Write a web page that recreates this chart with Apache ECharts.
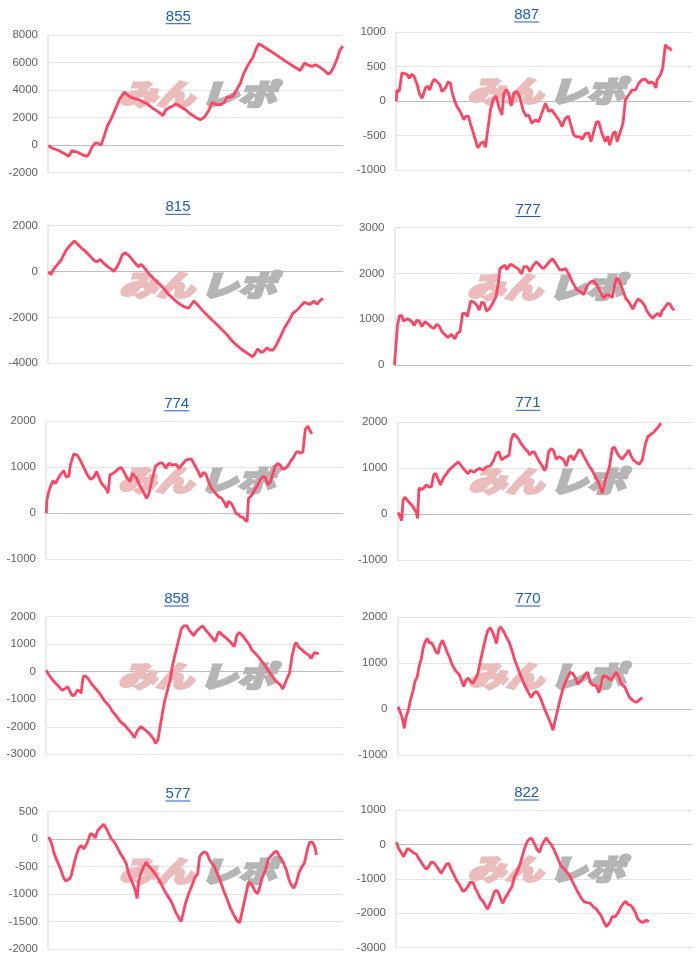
<!DOCTYPE html>
<html>
<head>
<meta charset="utf-8">
<script src="https://cdn.jsdelivr.net/npm/echarts@6/dist/echarts.min.js"></script>
<style>
  html, body { margin: 0; padding: 0; background: #fff; }
  #main { width: 700px; height: 970px; }
</style>
</head>
<body>
<div id="main"></div>
<script>
// 台番号ごとの差枚推移 (x: 横軸上の位置 0-100, y: 差枚)
const titles = ['855', '887', '815', '777', '774', '771', '858', '770', '577', '822'];

const s855 = [[0.2,0],[0.8,-150],[1.9,-260],[3.6,-390],[5.3,-580],[7.0,-820],[8.1,-390],[8.7,-310],[9.8,-500],[11.5,-680],[13.0,-820],[13.8,-680],[14.9,-150],[16.0,150],[16.8,150],[18.0,0],[18.9,580],[20.2,1430],[21.4,1910],[22.0,2030],[23.2,2800],[24.3,3370],[25.9,3850],[26.8,3680],[27.9,3490],[29.6,3370],[31.3,3240],[33.6,3000],[35.8,2640],[37.5,2400],[39.0,2150],[39.8,2520],[40.9,2710],[42.0,2810],[43.5,3000],[44.9,2810],[46.6,2570],[48.2,2280],[49.9,2030],[51.6,1840],[53.0,2030],[54.5,2520],[55.6,3120],[57.3,2950],[58.6,2950],[59.8,3120],[60.7,3490],[61.8,3490],[62.9,3610],[64.1,4090],[65.2,4500],[66.3,5180],[67.5,5710],[68.6,6100],[69.5,6390],[70.3,6880],[71.4,7360],[72.5,7240],[74.2,7000],[76.5,6680],[78.8,6340],[81.0,6030],[83.3,5710],[85.5,5420],[86.9,5960],[88.4,5790],[89.5,5710],[90.6,5840],[92.1,5670],[93.4,5470],[94.8,5180],[95.7,5230],[96.8,5670],[98.0,6270],[98.9,6880],[99.7,7120],[100,7170]];

const s887 = [[0.1,0],[0.3,160],[1.1,140],[1.5,160],[2.0,410],[2.6,430],[3.7,390],[4.5,330],[5.2,390],[6.0,370],[7.1,250],[7.9,110],[8.8,40],[9.1,20],[9.9,190],[10.7,220],[11.4,160],[12.2,270],[13.0,320],[13.9,280],[14.8,240],[15.5,140],[16.7,190],[17.6,280],[18.4,260],[18.9,140],[19.7,20],[20.6,-80],[21.7,-150],[22.9,-270],[23.6,-220],[24.5,-220],[25.1,-320],[26.2,-470],[27.6,-680],[28.7,-610],[29.6,-590],[30.2,-670],[30.7,-660],[31.9,-130],[32.8,20],[33.8,75],[34.7,-80],[35.8,-200],[36.4,110],[37.3,170],[38.1,110],[38.9,-70],[39.8,120],[40.9,140],[41.8,65],[42.9,-130],[44.0,-220],[44.8,-200],[45.9,-320],[47.1,-270],[48.2,-300],[49.3,-170],[50.5,-30],[51.6,-150],[52.7,-130],[53.8,-200],[55.0,-270],[56.1,-370],[57.2,-250],[58.3,-220],[58.9,-320],[60.0,-490],[61.1,-520],[62.3,-520],[62.8,-560],[64.0,-470],[65.1,-460],[65.9,-590],[66.8,-440],[67.7,-300],[68.5,-300],[69.6,-470],[70.7,-590],[71.5,-510],[72.2,-640],[73.3,-470],[74.1,-440],[74.7,-590],[75.6,-470],[76.7,-320],[77.5,20],[78.6,90],[79.7,160],[80.9,160],[82.0,260],[83.1,310],[84.2,320],[85.4,260],[85.9,240],[86.5,280],[87.3,240],[87.8,190],[88.2,310],[89.3,380],[90.1,480],[91.0,820],[91.6,780],[92.5,770],[93.0,730]];

const s815 = [[0.2,0],[1.0,-140],[1.9,110],[3.1,290],[4.2,460],[5.3,720],[6.2,940],[7.6,1160],[8.9,1330],[10.1,1190],[11.5,1010],[13.0,840],[14.4,650],[15.8,460],[16.8,430],[17.7,530],[18.9,360],[20.0,240],[21.4,110],[22.3,0],[23.4,210],[24.3,430],[25.1,720],[26.2,820],[27.3,720],[28.5,530],[29.6,360],[30.7,210],[31.5,320],[32.4,210],[34.1,-80],[35.8,-300],[37.5,-520],[39.2,-730],[40.9,-1000],[42.6,-1200],[44.3,-1390],[46.0,-1530],[47.7,-1600],[49.4,-1280],[50.7,-1450],[52.2,-1670],[53.9,-1890],[55.6,-2110],[57.3,-2320],[59.0,-2540],[60.7,-2760],[62.4,-3020],[64.1,-3230],[65.8,-3410],[67.5,-3560],[69.2,-3710],[69.9,-3640],[71.1,-3370],[72.2,-3520],[73.1,-3490],[74.2,-3320],[75.1,-3420],[76.3,-3420],[77.4,-3200],[78.8,-2840],[80.1,-2470],[81.6,-2160],[83.0,-1820],[84.4,-1680],[85.5,-1530],[86.9,-1340],[87.8,-1390],[88.9,-1430],[90.1,-1280],[91.2,-1430],[92.1,-1280],[93.2,-1170]];

const s777 = [[0,0],[0.4,360],[1.0,870],[1.7,1080],[2.5,1080],[3.0,960],[3.6,930],[4.4,1010],[5.0,1010],[5.8,950],[6.6,860],[7.5,980],[8.3,960],[9.2,840],[10.3,950],[11.4,890],[12.5,820],[13.3,800],[14.2,890],[15.1,840],[15.9,730],[17.0,660],[17.9,600],[19.2,670],[20.3,570],[21.1,690],[22.0,730],[22.9,1130],[23.7,1130],[24.5,1060],[25.6,1400],[26.7,1370],[27.6,1310],[28.5,1200],[29.3,1380],[30.1,1350],[30.9,1180],[31.8,1220],[33.0,1350],[34.1,1490],[34.9,1780],[35.4,2100],[36.3,2150],[37.1,2180],[37.7,2080],[38.5,2170],[39.3,2200],[40.4,2150],[41.6,2100],[42.7,1990],[43.5,2150],[44.6,2150],[45.5,2040],[46.6,2170],[47.7,2260],[48.8,2180],[49.9,2100],[51.1,2180],[52.2,2270],[53.1,2320],[54.2,2220],[55.5,2080],[56.6,2080],[57.5,2110],[58.7,1970],[59.8,1810],[61.1,1660],[62.5,1600],[63.7,1540],[64.7,1730],[65.8,1810],[66.9,1840],[68.0,1750],[69.2,1590],[70.3,1460],[71.2,1530],[72.1,1530],[73.2,1470],[74.0,1750],[74.7,1910],[75.6,1840],[76.5,1680],[77.7,1460],[78.8,1370],[80.1,1220],[81.0,1350],[81.8,1440],[82.9,1400],[84.0,1310],[84.9,1170],[86.0,1080],[86.8,1020],[87.7,1090],[88.5,1130],[89.3,1060],[89.9,1180],[90.7,1240],[91.8,1350],[92.6,1330],[93.3,1240],[94.1,1200]];

const s774 = [[0.1,0],[0.3,280],[0.9,460],[1.7,610],[2.4,700],[3.2,640],[3.9,730],[4.8,830],[6.0,920],[6.8,780],[7.7,800],[8.2,1040],[9.3,1280],[10.5,1260],[11.6,1140],[12.7,990],[13.9,830],[15.0,730],[16.1,780],[17.0,900],[17.8,780],[18.7,640],[19.7,570],[20.4,510],[20.9,430],[21.5,830],[22.3,850],[23.4,900],[24.5,970],[25.3,990],[26.2,900],[27.1,780],[28.3,680],[29.1,860],[30.2,790],[31.3,640],[32.4,500],[33.9,320],[34.7,430],[35.8,750],[36.9,1020],[38.1,1080],[39.2,1090],[40.3,970],[41.4,1080],[42.6,1040],[43.7,1060],[44.8,970],[45.9,1060],[47.1,1150],[48.2,1170],[49.0,1170],[49.9,1060],[51.0,930],[52.1,780],[53.0,880],[53.8,850],[54.6,700],[55.7,540],[56.9,440],[58.0,360],[59.1,320],[60.2,210],[60.8,120],[61.4,250],[62.3,220],[63.1,120],[64.0,-10],[64.8,-30],[65.4,-80],[66.2,-90],[67.0,-150],[67.7,-190],[68.2,320],[69.1,370],[70.2,490],[71.3,610],[72.2,730],[73.0,790],[73.8,780],[74.7,610],[75.6,680],[76.4,860],[77.1,1010],[78.0,1080],[78.9,1040],[79.7,950],[80.5,970],[81.4,1020],[82.5,1140],[83.4,1220],[84.3,1330],[85.0,1330],[85.7,1300],[86.5,1330],[87.3,1820],[88.2,1890],[88.7,1820],[89.5,1720]];

const s771 = [[0.2,40],[0.8,-40],[1.4,-140],[1.9,310],[2.5,370],[3.3,310],[4.2,240],[5.1,180],[5.9,90],[6.4,40],[6.8,-90],[7.3,570],[8.1,540],[8.9,570],[9.8,640],[10.7,590],[11.5,600],[12.3,860],[13.0,890],[13.8,760],[14.6,640],[15.5,780],[16.6,880],[17.5,960],[18.3,1010],[19.4,1070],[20.6,1140],[21.7,1050],[22.8,960],[24.0,880],[24.7,960],[25.9,910],[26.8,960],[27.9,1000],[29.0,960],[29.9,1020],[30.7,1040],[31.5,1050],[32.7,1180],[33.6,1330],[34.4,1360],[35.3,1180],[36.0,1220],[36.9,1250],[37.9,1290],[38.6,1620],[39.4,1750],[40.3,1700],[41.2,1630],[42.0,1530],[43.2,1430],[44.3,1360],[44.9,1290],[45.8,1360],[46.6,1340],[47.3,1250],[48.2,1140],[49.2,1040],[49.9,950],[50.5,1020],[51.3,1360],[52.2,1430],[53.0,1380],[53.9,1200],[54.8,1250],[55.6,1230],[56.4,1180],[57.3,1050],[58.2,1250],[59.0,1270],[59.8,1180],[60.7,1290],[61.6,1400],[62.4,1380],[63.2,1270],[64.3,1140],[65.2,1040],[66.3,930],[67.5,780],[68.6,640],[69.5,460],[70.3,670],[71.1,860],[72.0,1040],[72.9,1430],[73.7,1460],[74.5,1340],[75.4,1250],[76.3,1200],[77.1,1270],[77.9,1330],[78.5,1400],[79.3,1270],[80.1,1180],[81.2,1120],[82.1,1090],[83.1,1180],[83.6,1180],[84.2,1540],[85.0,1690],[86.1,1740],[87.2,1800],[88.4,1890],[89.5,1980]];

const s858 = [[0.1,60],[0.9,-100],[2.0,-270],[3.2,-420],[4.3,-540],[5.4,-670],[6.5,-610],[7.3,-540],[8.0,-700],[8.8,-870],[9.6,-850],[10.5,-670],[11.4,-700],[11.8,-790],[12.5,-180],[13.3,-150],[14.1,-240],[15.2,-420],[16.7,-610],[18.1,-790],[19.5,-1030],[21.2,-1230],[22.3,-1430],[23.8,-1630],[25.1,-1820],[26.5,-1940],[27.9,-2120],[29.1,-2280],[29.8,-2400],[30.7,-2150],[31.9,-2000],[33.0,-2080],[34.1,-2180],[35.2,-2300],[36.1,-2420],[36.9,-2600],[37.7,-2480],[38.4,-2000],[39.2,-1510],[40.0,-1030],[40.9,-670],[41.8,-300],[42.6,240],[43.7,730],[44.8,1210],[45.6,1570],[46.5,1670],[47.4,1670],[48.2,1510],[49.7,1310],[50.5,1450],[51.6,1570],[52.7,1670],[53.8,1510],[55.0,1360],[56.1,1210],[56.9,1090],[57.8,1360],[58.3,1450],[59.5,1330],[60.6,1230],[62.0,1090],[63.4,910],[64.3,1330],[65.1,1430],[66.2,1310],[67.3,1150],[68.5,970],[69.3,790],[70.4,670],[71.5,540],[72.6,390],[73.8,220],[74.7,60],[75.8,-100],[76.9,-270],[78.0,-390],[78.9,-480],[79.7,-630],[80.5,-420],[81.4,-180],[82.0,-60],[82.8,540],[83.7,970],[84.2,1070],[85.0,910],[85.9,820],[86.8,730],[87.6,670],[88.4,610],[89.3,480],[89.9,610],[90.4,700],[91.3,670],[91.8,640]];

const s770 = [[0.2,50],[0.8,-40],[1.4,-150],[1.9,-280],[2.3,-420],[2.8,-200],[3.6,-40],[4.4,200],[5.3,410],[5.9,600],[6.7,700],[7.3,920],[8.1,1100],[8.7,1320],[9.3,1450],[10.1,1540],[10.7,1450],[11.5,1450],[12.3,1360],[13.0,1250],[13.8,1210],[14.4,1390],[15.3,1500],[16.0,1390],[16.8,1250],[17.7,1120],[18.6,960],[19.8,830],[20.9,760],[21.7,630],[22.5,490],[23.2,630],[24.0,680],[24.7,610],[25.6,560],[26.6,670],[27.3,780],[28.1,1030],[29.0,1290],[29.9,1540],[30.7,1720],[31.5,1770],[32.2,1690],[33.0,1550],[33.6,1430],[34.4,1740],[34.9,1790],[35.8,1720],[36.9,1580],[38.1,1430],[39.0,1250],[39.8,1070],[40.9,890],[42.0,700],[43.2,520],[44.3,380],[45.4,250],[46.2,340],[47.1,390],[48.0,310],[48.8,200],[49.9,10],[51.1,-170],[52.0,-310],[52.8,-460],[53.7,-200],[54.5,10],[55.3,230],[56.2,450],[57.1,600],[57.9,700],[58.6,800],[59.5,780],[60.5,670],[61.2,540],[62.0,600],[62.9,670],[63.8,760],[64.6,800],[65.4,600],[66.3,520],[67.5,510],[68.4,360],[69.2,560],[69.9,740],[70.8,710],[71.8,670],[72.5,630],[73.3,710],[74.2,800],[75.1,710],[75.9,560],[77.1,490],[77.9,380],[78.8,250],[79.7,200],[80.5,160],[81.2,150],[82.1,200],[83.1,250]];

const s577 = [[0.2,40],[0.8,-20],[1.4,-110],[1.9,-230],[2.7,-350],[3.6,-460],[4.4,-560],[5.1,-680],[5.9,-760],[6.4,-780],[7.2,-730],[7.9,-660],[8.7,-470],[9.6,-290],[10.4,-170],[11.2,-110],[12.1,-180],[12.9,-110],[13.6,-20],[14.4,100],[15.3,80],[16.0,20],[16.8,150],[17.7,210],[18.9,270],[19.8,190],[20.6,100],[21.4,10],[22.3,-40],[23.4,-140],[24.5,-260],[25.6,-350],[26.6,-460],[27.3,-620],[28.5,-780],[29.6,-930],[30.2,-1080],[30.7,-780],[31.5,-620],[32.4,-500],[33.3,-420],[34.1,-490],[35.3,-560],[36.4,-640],[37.5,-730],[38.6,-840],[39.4,-930],[40.3,-1010],[41.5,-1110],[42.4,-1210],[43.2,-1320],[44.3,-1430],[45.1,-1500],[45.8,-1350],[46.6,-1170],[47.7,-990],[48.8,-840],[49.9,-690],[50.7,-640],[51.4,-320],[52.2,-260],[53.0,-230],[53.9,-260],[54.8,-380],[55.6,-440],[56.4,-500],[57.5,-640],[58.4,-760],[59.5,-930],[60.7,-1090],[61.8,-1250],[62.9,-1370],[64.1,-1490],[65.0,-1520],[65.8,-1320],[66.9,-1050],[68.0,-780],[68.8,-810],[69.5,-870],[70.3,-960],[71.1,-990],[71.8,-870],[72.5,-720],[73.7,-560],[74.8,-350],[75.9,-290],[76.8,-230],[77.6,-220],[78.5,-320],[79.7,-420],[80.8,-560],[81.6,-720],[82.4,-830],[83.3,-890],[84.2,-790],[85.0,-620],[86.1,-500],[86.9,-440],[87.5,-420],[88.0,-170],[88.7,-60],[89.5,-50],[90.1,-100],[90.6,-170],[91.0,-290]];

const s822 = [[0.1,60],[0.9,-120],[1.7,-230],[2.6,-360],[3.2,-230],[3.9,-120],[4.8,-160],[5.7,-230],[6.9,-290],[7.7,-410],[8.4,-500],[9.3,-620],[10.2,-720],[11.0,-650],[11.8,-520],[12.7,-520],[13.6,-620],[14.4,-720],[15.2,-840],[16.1,-720],[17.0,-580],[17.8,-550],[18.6,-720],[19.5,-870],[20.4,-1040],[21.5,-1180],[22.6,-1360],[23.4,-1330],[24.2,-1230],[25.1,-1100],[26.0,-1100],[26.8,-1280],[27.6,-1400],[28.5,-1570],[29.4,-1650],[30.2,-1780],[31.0,-1880],[31.6,-1840],[32.4,-1590],[33.2,-1380],[33.9,-1330],[34.7,-1420],[35.5,-1610],[36.1,-1710],[36.9,-1550],[37.7,-1450],[38.4,-1330],[39.2,-1230],[40.0,-940],[40.9,-790],[41.8,-600],[42.6,-360],[43.4,-120],[44.3,80],[45.2,170],[45.9,170],[46.7,30],[47.6,-140],[48.5,-230],[49.3,-20],[50.1,100],[50.8,190],[51.6,80],[52.4,0],[53.3,-140],[54.2,-310],[55.0,-480],[55.7,-620],[56.9,-720],[57.8,-810],[58.7,-910],[59.5,-1060],[60.2,-1180],[61.1,-1330],[62.0,-1470],[62.8,-1590],[63.6,-1670],[64.6,-1690],[65.7,-1710],[66.6,-1810],[67.7,-1880],[68.5,-1980],[69.3,-2070],[70.2,-2250],[71.1,-2390],[71.5,-2440],[72.2,-2270],[73.0,-2100],[74.1,-2100],[75.2,-1960],[76.0,-1810],[76.9,-1710],[77.6,-1650],[78.3,-1740],[79.2,-1760],[80.1,-1860],[80.9,-1980],[81.6,-2150],[82.5,-2230],[83.4,-2270],[83.9,-2250],[84.6,-2200],[85.4,-2250]];

const lines = [s855, s887, s815, s777, s774, s771, s858, s770, s577, s822];
const yMin  = [-2000, -1000, -4000,    0, -1000, -1000, -3000, -1000, -2000, -3000];
const yMax  = [ 8000,  1000,  2000, 3000,  2000,  2000,  2000,  2000,   500,  1000];
const yStep = [ 2000,   500,  2000, 1000,  1000,  1000,  1000,  1000,   500,  1000];

// 各パネルの描画領域 [left, top, width, height] とタイトル中心 [x, y]
const boxes = [
  [48, 35, 295, 137.7], [396, 32.3, 296, 137.7],
  [48, 225.7, 295, 137.6], [394.5, 227.7, 297.5, 137.3],
  [46, 421, 297, 138], [397.5, 422.3, 294.5, 138],
  [46, 616.7, 297, 137.6], [397.5, 617.3, 294.5, 137.7],
  [48, 811.7, 295, 137.3], [396, 810, 296, 137.7]
];
const titlePos = [
  [178.3, 16.7], [526.7, 15], [178, 207.3], [528, 209.5], [176.7, 403.8],
  [528, 403.3], [176.7, 599], [528, 599], [178, 794], [526.7, 793]
];

const FONT = 'Arial, "Liberation Sans", sans-serif';
const BLUE = '#1a5cc6';
const RED = '#ff4463';
const LOGO_FONT = 'italic 900 29px "Noto Sans CJK JP"';

const measure = document.createElement('canvas').getContext('2d');
measure.font = '15px ' + FONT;

const chart = echarts.init(document.getElementById('main'));

const grid = [], xAxis = [], yAxis = [], series = [], title = [], graphic = [];
titles.forEach((name, i) => {
  const [l, t, w, h] = boxes[i];
  grid.push({ left: l, top: t, width: w, height: h });
  xAxis.push({
    type: 'value', gridIndex: i, min: 0, max: 100,
    axisLine: { show: true, onZero: true, lineStyle: { color: '#bdbdbd', width: 1 } },
    axisTick: { show: false }, axisLabel: { show: false }, splitLine: { show: false }
  });
  yAxis.push({
    type: 'value', gridIndex: i, min: yMin[i], max: yMax[i], interval: yStep[i],
    axisLine: { show: true, lineStyle: { color: '#e4e4e4', width: 1.5 } },
    axisTick: { show: false },
    axisLabel: { color: '#606060', fontSize: 11.5, fontFamily: FONT, margin: 10,
      formatter: v => String(v) },
    splitLine: { lineStyle: { color: '#e4e4e4', width: 1 } }
  });
  series.push({
    type: 'line', xAxisIndex: i, yAxisIndex: i, data: lines[i],
    showSymbol: false, silent: true, z: 5,
    lineStyle: { color: RED, width: 2.8 }
  });

  const [tx, ty] = titlePos[i];
  title.push({
    text: name, link: '#', left: tx, top: ty, padding: 0,
    textAlign: 'center', textVerticalAlign: 'middle',
    textStyle: { color: BLUE, fontSize: 15, fontWeight: 'normal', fontFamily: FONT }
  });
  const tw = measure.measureText(name).width;
  graphic.push({
    type: 'line', silent: true,
    shape: { x1: tx - tw / 2, y1: ty + 7, x2: tx + tw / 2, y2: ty + 7 },
    style: { stroke: BLUE, lineWidth: 1 }
  });

  // 透かしロゴ
  const cx = l + w / 2 + 2, cy = t + 59;
  graphic.push({
    type: 'text', x: cx - 3, y: cy, scaleX: 1.3, z: 1, silent: true,
    style: { text: 'みん', align: 'right', verticalAlign: 'middle', font: LOGO_FONT,
      fill: '#ebbcbc', stroke: '#ebbcbc', lineWidth: 2.5 }
  });
  graphic.push({
    type: 'text', x: cx + 3, y: cy, scaleX: 1.3, z: 1, silent: true,
    style: { text: 'レポ', align: 'left', verticalAlign: 'middle', font: LOGO_FONT,
      fill: '#b5b5b5', stroke: '#b5b5b5', lineWidth: 2.5 }
  });
});

chart.setOption({
  animation: false,
  backgroundColor: '#fff',
  title, grid, xAxis, yAxis, series, graphic
});
</script>
</body>
</html>
